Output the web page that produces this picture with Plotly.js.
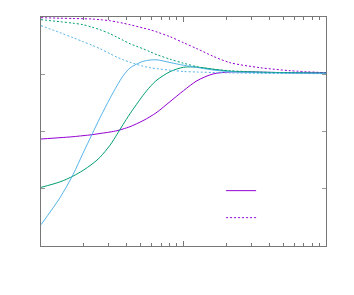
<!DOCTYPE html>
<html>
<head>
<meta charset="utf-8">
<script src="https://cdn.plot.ly/plotly-3.0.1.min.js"></script>
<style>html,body{margin:0;padding:0;background:#fff;}#chart{width:354px;height:295px;}</style>
</head>
<body>
<div id="chart"></div>
<script>
// x positions (log axis, 1 .. 100)
const xVals = [1, 1.359, 1.677, 1.971, 2.28, 2.594, 3.05, 3.415, 3.762, 4.213, 5.196, 5.82, 6.517, 8.04, 10, 12.44, 16.11, 21.2, 34.42, 55.9, 100];

// solid curves
const purpleSolid = [1.869, 1.892, 1.909, 1.927, 1.944, 1.965, 1.991, 2.014, 2.044, 2.084, 2.189, 2.258, 2.337, 2.521, 2.713, 2.887, 3.005, 3.04, 3.036, 3.027, 3.022];
const tealSolid   = [1.024, 1.12, 1.22, 1.32, 1.43, 1.55, 1.76, 1.95, 2.12, 2.31, 2.63, 2.78, 2.9, 3.045, 3.122, 3.124, 3.088, 3.053, 3.036, 3.027, 3.022];
const blueSolid   = [0.372, 0.844, 1.245, 1.62, 1.95, 2.24, 2.58, 2.8, 2.97, 3.11, 3.225, 3.248, 3.252, 3.205, 3.157, 3.119, 3.075, 3.045, 3.027, 3.022, 3.018];

// dotted curves
const purpleDot = [3.988, 3.979, 3.974, 3.97, 3.965, 3.953, 3.935, 3.913, 3.892, 3.865, 3.808, 3.778, 3.738, 3.656, 3.551, 3.446, 3.315, 3.202, 3.115, 3.062, 3.027];
const tealDot   = [3.953, 3.918, 3.892, 3.866, 3.822, 3.778, 3.708, 3.647, 3.595, 3.533, 3.446, 3.393, 3.341, 3.263, 3.193, 3.132, 3.088, 3.062, 3.036, 3.027, 3.022];
const blueDot   = [3.849, 3.727, 3.639, 3.569, 3.507, 3.446, 3.359, 3.298, 3.254, 3.21, 3.141, 3.114, 3.097, 3.071, 3.048, 3.039, 3.031, 3.024, 3.017, 3.013, 3.01];

const colors = ['#9400d3', '#009e73', '#56b4e9'];

const xMajor = [1, 10, 100];
const xMinor = [2, 3, 4, 5, 6, 7, 8, 9, 20, 30, 40, 50, 60, 70, 80, 90];
const yTicks = [0, 1, 2, 3, 4];

function tr(y, color, dash, show, group) {
  return {
    x: xVals, y: y, type: 'scatter', mode: 'lines',
    line: {color: color, width: 1, dash: dash, shape: 'spline', smoothing: 0.8},
    name: ' ', showlegend: show, legendgroup: group, hoverinfo: 'skip'
  };
}

const data = [
  tr(purpleSolid, colors[0], 'solid', true, 'a'),
  tr(tealSolid, colors[1], 'solid', false, 'a'),
  tr(blueSolid, colors[2], 'solid', false, 'a'),
  tr(purpleDot, colors[0], '2px,2px', true, 'b'),
  tr(tealDot, colors[1], '2px,2px', false, 'b'),
  tr(blueDot, colors[2], '2px,2px', false, 'b')
];

const layout = {
  width: 354, height: 295,
  margin: {l: 41, r: 28, t: 17, b: 49, pad: 0},
  paper_bgcolor: '#fff', plot_bgcolor: '#fff',
  font: {family: 'DejaVu Sans', size: 10, color: '#000'},
  showlegend: true,
  legend: {x: 0.632, y: 0.305, xanchor: 'left', yanchor: 'top', bgcolor: 'rgba(0,0,0,0)',
           traceorder: 'grouped', tracegroupgap: 8, font: {size: 12}},
  xaxis: {
    type: 'log', range: [0, 2], showgrid: false, zeroline: false,
    showline: true, linecolor: '#777', linewidth: 1, mirror: 'allticks',
    ticks: 'inside', ticklen: 5, tickcolor: '#777', tickmode: 'array', tickvals: xMajor,
    showticklabels: false,
    minor: {tickmode: 'array', tickvals: xMinor, ticks: 'inside', ticklen: 3, tickcolor: '#777', showgrid: false}
  },
  yaxis: {
    range: [0, 4], showgrid: false, zeroline: false,
    showline: true, linecolor: '#777', linewidth: 1, mirror: 'allticks',
    ticks: 'inside', ticklen: 4, tickcolor: '#999', tickmode: 'array', tickvals: yTicks,
    showticklabels: false
  }
};

Plotly.newPlot('chart', data, layout, {displayModeBar: false, staticPlot: true});
</script>
</body>
</html>
